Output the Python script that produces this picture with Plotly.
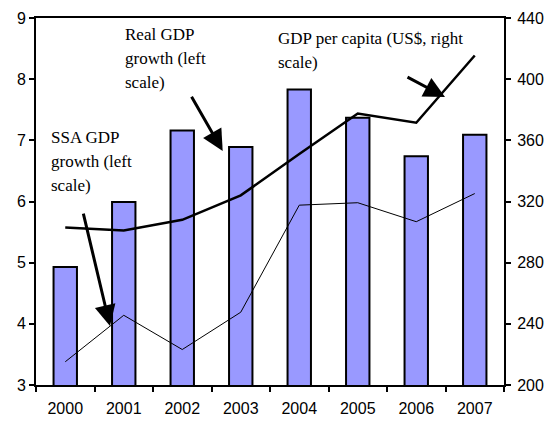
import plotly.graph_objects as go

years = ["2000", "2001", "2002", "2003", "2004", "2005", "2006", "2007"]
real_gdp_growth = [4.93, 5.99, 7.16, 6.89, 7.83, 7.37, 6.74, 7.09]
ssa_gdp_growth = [3.38, 4.14, 3.58, 4.19, 5.94, 5.98, 5.67, 6.13]
gdp_per_capita = [303, 301, 308, 324, 351, 377.5, 371.5, 415.5]
left_ticks = [3, 4, 5, 6, 7, 8, 9]
right_ticks = [200, 240, 280, 320, 360, 400, 440]

W, H = 553, 422
L, R, T, B = 36, 504, 17.5, 385


def px(x, y):
    return (x - L) / (R - L), (B - y) / (B - T)


fig = go.Figure()
fig.add_trace(go.Bar(
    x=years, y=real_gdp_growth, width=0.4,
    marker=dict(color="#9999FF", line=dict(color="black", width=2)),
    yaxis="y", showlegend=False,
))
fig.add_trace(go.Scatter(
    x=years, y=ssa_gdp_growth, mode="lines",
    line=dict(color="black", width=1), yaxis="y", showlegend=False,
))
fig.add_trace(go.Scatter(
    x=years, y=gdp_per_capita, mode="lines",
    line=dict(color="black", width=2.5), yaxis="y2", showlegend=False,
))

axis_font = dict(family="Arial, Liberation Sans, sans-serif", size=16, color="black")
fig.update_layout(
    width=W, height=H,
    margin=dict(l=L, r=W - R, t=T, b=H - B),
    paper_bgcolor="white", plot_bgcolor="white",
    xaxis=dict(
        type="category", tickson="boundaries", ticks="outside", ticklen=5,
        tickwidth=1.5, tickcolor="black", ticklabelstandoff=8, automargin=False,
        showline=True, linecolor="black", linewidth=2, mirror=True,
        showgrid=False, tickfont=axis_font, range=[-0.5, 7.5],
    ),
    yaxis=dict(
        range=[3, 9], tickvals=left_ticks, ticks="outside", ticklen=5,
        tickwidth=1.5, tickcolor="black", automargin=False,
        showline=True, linecolor="black", linewidth=2,
        showgrid=False, zeroline=False, tickfont=axis_font,
    ),
    yaxis2=dict(
        range=[200, 440], tickvals=right_ticks, overlaying="y", side="right",
        ticks="outside", ticklen=5, tickwidth=1.5, tickcolor="black",
        ticklabelstandoff=3, automargin=False,
        showline=True, linecolor="black", linewidth=2,
        showgrid=False, zeroline=False, tickfont=axis_font,
    ),
    bargap=0.6,
)

text_font = dict(family="Times New Roman, Liberation Serif, serif", size=17, color="black")
label_lines = [
    (["Real GDP", "growth (left", "scale)"], 123, 34.5),
    (["SSA GDP", "growth (left", "scale)"], 49, 137),
    (["GDP per capita (US$, right", "scale)"], 276, 38.5),
]
line_step = 24
for lines, x0, y0 in label_lines:
    for i, line in enumerate(lines):
        xp, yp = px(x0, y0 + i * line_step)
        fig.add_annotation(
            text=line, x=xp, y=yp, xref="paper", yref="paper",
            xanchor="left", yanchor="middle", align="left", showarrow=False,
            font=text_font,
        )

arrows = [
    ((110, 326), (83, 212)),
    ((222.7, 150.7), (190.7, 95)),
    ((445, 96.7), (406, 76)),
]
for (tx, ty), (sx, sy) in arrows:
    xp, yp = px(tx, ty)
    fig.add_annotation(
        text="", x=xp, y=yp, xref="paper", yref="paper",
        ax=sx - tx, ay=sy - ty, showarrow=True,
        arrowhead=2, arrowsize=1.4, arrowwidth=3, arrowcolor="black", standoff=0,
    )

fig.write_html(
    "out.html",
    config={"displayModeBar": False},
    post_script="document.body.style.margin='0';document.body.style.overflow='hidden';",
)
